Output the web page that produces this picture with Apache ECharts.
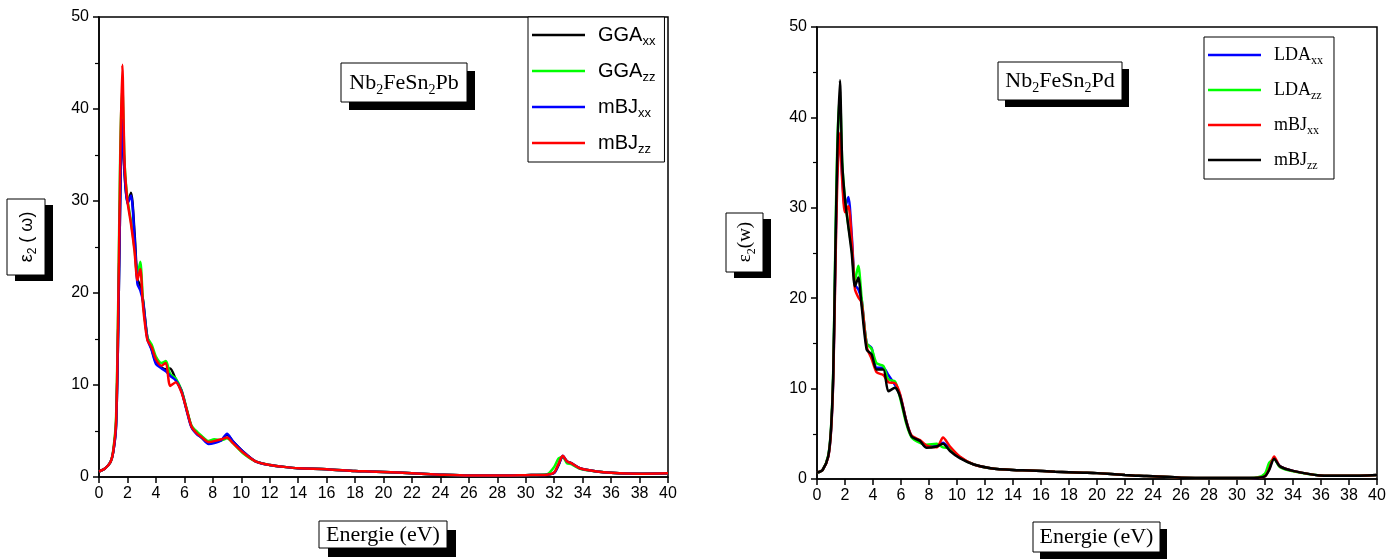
<!DOCTYPE html>
<html><head><meta charset="utf-8">
<script src="https://cdn.jsdelivr.net/npm/echarts@6/dist/echarts.min.js"></script>
<style>html,body{margin:0;padding:0;background:#fff}#c{width:1396px;height:559px}</style>
</head><body><div id="c"></div>
<script>
// ---------- tick labels ----------
const xTicks = [0,2,4,6,8,10,12,14,16,18,20,22,24,26,28,30,32,34,36,38,40];
const yTicks = [0,10,20,30,40,50];

// ---------- left panel : Nb2FeSn2Pb ----------
const energyL = [0,0.4,0.8,1.0,1.2,1.35,1.5,1.64,1.8,2.0,2.25,2.5,2.7,2.9,3.1,3.4,3.7,4.0,4.4,4.7,5.0,5.4,5.8,6.2,6.5,6.9,7.2,7.7,8.1,8.6,9.0,9.4,10.1,11,12,13,14,16,18,19,20,22,24,26,28,30,31.5,32.0,32.3,32.6,32.9,33.2,33.8,35,36,38,40];
const ggaXX = [0.6,0.9,1.6,2.7,5.6,16,31,38.5,33,29.8,30.9,26.5,21.5,20.8,19.2,15.2,13.9,12.5,11.9,11.7,11.8,10.6,9.4,7.1,5.5,4.7,4.3,3.7,3.8,4.0,4.6,3.9,2.8,1.7,1.3,1.1,0.95,0.85,0.65,0.6,0.55,0.4,0.25,0.15,0.15,0.2,0.25,0.45,1.3,2.2,1.7,1.5,0.95,0.6,0.45,0.35,0.4];
const ggaZZ = [0.6,0.9,1.6,2.9,6.5,19,36,42.5,34,30.2,27.8,24.8,21.8,23.4,19.0,15.2,14.4,13.1,12.4,12.6,11.2,10.7,9.4,7.2,5.6,4.9,4.5,3.9,4.1,4.0,4.2,3.7,2.6,1.7,1.3,1.1,0.95,0.85,0.65,0.6,0.55,0.4,0.25,0.15,0.15,0.2,0.3,1.1,2.0,2.2,1.5,1.4,0.9,0.6,0.45,0.35,0.4];
const mbjXX_L = [0.6,0.9,1.6,2.7,5.5,16,31,38.8,33,29.7,30.6,26,21,20.3,19,15,13.8,12.3,11.8,11.5,11.0,10.5,9.3,7.0,5.4,4.6,4.3,3.6,3.7,4.0,4.7,3.9,2.8,1.7,1.3,1.1,0.95,0.85,0.65,0.6,0.55,0.4,0.25,0.15,0.15,0.2,0.25,0.45,1.3,2.3,1.7,1.5,0.95,0.6,0.45,0.35,0.4];
const mbjZZ_L = [0.6,0.9,1.6,2.8,6.0,18,35,44.8,34,30,27.5,24.5,21.4,22.6,18.5,14.9,14.1,12.8,12.1,12.4,9.9,10.3,9.2,7.1,5.5,4.7,4.35,3.8,3.9,4.1,4.3,3.7,2.7,1.7,1.3,1.1,0.95,0.85,0.65,0.6,0.55,0.4,0.25,0.15,0.15,0.2,0.25,0.5,1.4,2.3,1.7,1.5,0.95,0.6,0.45,0.35,0.4];

// ---------- right panel : Nb2FeSn2Pd ----------
const energyR = [0,0.4,0.8,1.0,1.16,1.3,1.45,1.64,1.8,2.0,2.24,2.48,2.71,2.95,3.19,3.55,3.9,4.26,4.74,5.1,5.57,5.93,6.4,6.76,7.36,7.83,8.55,9.0,9.5,10.2,11.2,12.4,14,15.2,17,19,20,22,23,24,26,28,30,31.5,32.0,32.3,32.65,33.07,34.0,35.9,38,40];
const ldaXX = [0.7,1.0,2.5,5.3,11.2,23,34,38,33.5,30,31.2,27,21.5,21,19.8,15,14.5,12.3,12.3,11.5,10.4,9.3,6.3,4.7,4.1,3.6,3.7,4.0,3.3,2.4,1.6,1.2,1.0,0.95,0.8,0.7,0.65,0.45,0.35,0.3,0.15,0.1,0.1,0.15,0.35,1.3,2.3,1.4,0.9,0.4,0.35,0.45];
const ldaZZ = [0.7,1.0,2.6,5.6,12,25,37,42.5,35,31,28,25.5,22,23.6,20,15,14.4,12.8,12.5,11.0,10.8,9.0,6.0,4.6,4.0,3.8,3.9,3.5,3.4,2.4,1.6,1.2,1.0,0.95,0.8,0.7,0.65,0.45,0.35,0.3,0.15,0.1,0.1,0.2,0.6,1.8,2.2,1.3,0.85,0.4,0.35,0.45];
const mbjXX_R = [0.7,1.0,2.4,5.2,11,22,33,38.3,33,29.5,30.2,26.5,21,20.1,19.5,14.6,13.3,11.8,11.5,10.7,10.6,9.4,6.3,4.8,4.3,3.7,3.5,4.6,3.6,2.5,1.6,1.2,1.0,0.95,0.8,0.7,0.65,0.45,0.35,0.3,0.15,0.1,0.1,0.15,0.3,1.1,2.5,1.4,0.9,0.4,0.35,0.45];
const mbjZZ_R = [0.7,1.0,2.5,5.5,11.7,24,36,44.1,35,30.9,27.9,25,21.3,22.3,19.1,14.3,13.8,12.1,12.1,9.7,10.1,9.15,6.2,4.7,4.2,3.45,3.6,3.9,3.1,2.3,1.6,1.2,1.0,0.95,0.8,0.7,0.65,0.45,0.35,0.3,0.15,0.1,0.1,0.15,0.3,1.0,2.25,1.4,0.9,0.4,0.35,0.45];

const pts = (xs, ys) => xs.map((x, i) => [x, ys[i]]);

const SANS = 'Liberation Sans, Arial, sans-serif';
const SERIF = 'Liberation Serif, Times New Roman, serif';

function xAxisCfg(gi) {
  return {
    type: 'value', gridIndex: gi, min: xTicks[0], max: xTicks[xTicks.length - 1], interval: xTicks[1] - xTicks[0],
    axisLine: { show: true, onZero: false, lineStyle: { color: '#000', width: 1.5 } },
    axisTick: { show: true, inside: false, length: 6, lineStyle: { color: '#000', width: 1.5 } },
    axisLabel: { color: '#000', fontSize: 16, fontFamily: SANS, margin: 9 },
    splitLine: { show: false }
  };
}
function yAxisCfg(gi) {
  return {
    type: 'value', gridIndex: gi, min: yTicks[0], max: yTicks[yTicks.length - 1], interval: yTicks[1] - yTicks[0],
    axisLine: { show: true, onZero: false, lineStyle: { color: '#000', width: 1.5 } },
    axisTick: { show: true, inside: false, length: 6, lineStyle: { color: '#000', width: 1.5 } },
    minorTick: { show: true, splitNumber: 2, length: 4, lineStyle: { color: '#000', width: 1.2 } },
    axisLabel: { color: '#000', fontSize: 16, fontFamily: SANS, margin: 10 },
    splitLine: { show: false }
  };
}
function lineSeries(name, xs, ys, color, gi) {
  return {
    name, type: 'line', xAxisIndex: gi, yAxisIndex: gi, data: pts(xs, ys),
    symbol: 'none', smooth: 0.25, lineStyle: { color, width: 2.5 }, itemStyle: { color },
    animation: false, z: 2
  };
}
function legendFmt(name) {
  const [a, b] = name.split(':')[1].split('_');
  return '{m|' + a + '}{s|' + b + '}';
}

const chart = echarts.init(document.getElementById('c'), null, { renderer: 'canvas' });

function box(x, y, w, h, dx, dy) {
  return [
    { type: 'rect', shape: { x: x + dx, y: y + dy, width: w, height: h }, style: { fill: '#000' }, z: 100 },
    { type: 'rect', shape: { x, y, width: w, height: h }, style: { fill: '#fff', stroke: '#000', lineWidth: 1 }, z: 101 }
  ];
}
// rich styles with a lowered subscript
const subRich = (fam, big, small) => {
  const L = big + 4;
  const P = Math.round(L / 2 + 0.55 * big - 0.85 * small);
  return {
    m: { fontFamily: fam, fontSize: big, color: '#000', lineHeight: L },
    s: { fontFamily: fam, fontSize: small, color: '#000', verticalAlign: 'top', lineHeight: 4, padding: [P, 0, 0, 0] }
  };
};

const graphics = [].concat(
  box(341, 63, 126, 39, 8, 8),
  [{ type: 'text', x: 404, y: 83, z: 102, style: { text: '{m|Nb}{s|2}{m|FeSn}{s|2}{m|Pb}', rich: subRich(SERIF, 22, 14), align: 'center', verticalAlign: 'middle' } }],
  box(998, 62, 124, 38, 7, 7),
  [{ type: 'text', x: 1060, y: 81, z: 102, style: { text: '{m|Nb}{s|2}{m|FeSn}{s|2}{m|Pd}', rich: subRich(SERIF, 22, 14), align: 'center', verticalAlign: 'middle' } }],
  box(7, 199, 38, 76, 8, 6),
  [{ type: 'text', x: 27, y: 237, rotation: Math.PI / 2, z: 102, style: { text: '{m|ε}{s|2}{m| ( ω)}', rich: subRich(SANS, 18, 12), align: 'center', verticalAlign: 'middle' } }],
  box(726, 213, 37, 59, 8, 6),
  [{ type: 'text', x: 745, y: 242, rotation: Math.PI / 2, z: 102, style: { text: '{m|ε}{s|2}{m|(w)}', rich: subRich(SERIF, 19, 12), align: 'center', verticalAlign: 'middle' } }],
  box(319, 521, 128, 27, 9, 9),
  [{ type: 'text', x: 383, y: 535, z: 102, style: { text: 'Energie (eV)', fontFamily: SERIF, fontSize: 22, fill: '#000', align: 'center', verticalAlign: 'middle' } }],
  box(1033, 522, 127, 30, 7, 7),
  [{ type: 'text', x: 1096.5, y: 537, z: 102, style: { text: 'Energie (eV)', fontFamily: SERIF, fontSize: 22, fill: '#000', align: 'center', verticalAlign: 'middle' } }]
);

chart.setOption({
  animation: false,
  backgroundColor: '#fff',
  grid: [
    { left: 99, top: 17, width: 569, height: 460, show: true, borderColor: '#000', borderWidth: 1.5, backgroundColor: 'transparent' },
    { left: 817, top: 27, width: 560, height: 452, show: true, borderColor: '#000', borderWidth: 1.5, backgroundColor: 'transparent' }
  ],
  xAxis: [xAxisCfg(0), xAxisCfg(1)],
  yAxis: [yAxisCfg(0), yAxisCfg(1)],
  legend: [
    {
      data: ['L:GGA_xx', 'L:GGA_zz', 'L:mBJ_xx', 'L:mBJ_zz'], orient: 'vertical', left: 528, top: 17,
      backgroundColor: '#fff', borderColor: '#000', borderWidth: 1, padding: [6, 9, 6, 4],
      icon: 'rect', itemWidth: 53, itemHeight: 2.5, itemGap: 11, selectedMode: false,
      formatter: legendFmt,
      textStyle: { padding: [0, 0, 0, 8], rich: subRich(SANS, 20, 13) }
    },
    {
      data: ['R:LDA_xx', 'R:LDA_zz', 'R:mBJ_xx', 'R:mBJ_zz'], orient: 'vertical', left: 1204, top: 37,
      backgroundColor: '#fff', borderColor: '#000', borderWidth: 1, padding: [7, 11, 7, 4],
      icon: 'rect', itemWidth: 53, itemHeight: 2.5, itemGap: 12, selectedMode: false,
      formatter: legendFmt,
      textStyle: { padding: [0, 0, 0, 8], rich: subRich(SERIF, 18, 12) }
    }
  ],
  series: [
    lineSeries('L:GGA_xx', energyL, ggaXX, '#000000', 0),
    lineSeries('L:GGA_zz', energyL, ggaZZ, '#00ff00', 0),
    lineSeries('L:mBJ_xx', energyL, mbjXX_L, '#0000ff', 0),
    lineSeries('L:mBJ_zz', energyL, mbjZZ_L, '#ff0000', 0),
    lineSeries('R:LDA_xx', energyR, ldaXX, '#0000ff', 1),
    lineSeries('R:LDA_zz', energyR, ldaZZ, '#00ff00', 1),
    lineSeries('R:mBJ_xx', energyR, mbjXX_R, '#ff0000', 1),
    lineSeries('R:mBJ_zz', energyR, mbjZZ_R, '#000000', 1)
  ],
  graphic: graphics
});
</script>
</body></html>
